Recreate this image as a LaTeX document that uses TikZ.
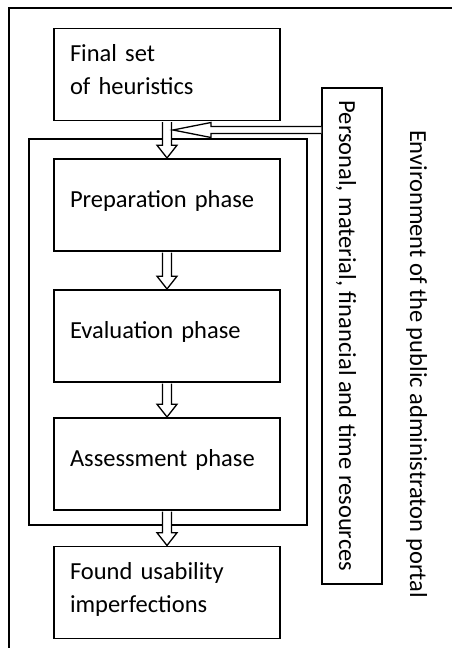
\documentclass[tikz,border=0pt]{standalone}
\usepackage{fontspec}
\setmainfont{Carlito}
\usetikzlibrary{calc}
\tikzset{
  lbl/.style={font=\fontsize{24.5}{33.5}\selectfont},
  box/.style={lbl, draw, line width=1.5pt, minimum width=226pt, minimum height=92pt,
    text width=194pt, align=left, inner sep=0pt, text height=18pt},
  oneline/.style={text depth=14pt},
  twoline/.style={text depth=45pt},
  frameline/.style={draw, line width=1.5pt},
  blk/.style={draw, fill=white, line width=1.3pt, line join=miter},
}
\newcommand\myvarrow[2]{\filldraw[blk] let \p1=(#1.south), \p2=(#2.north) in
  (\x1-4.5pt,\y1-0.8pt) -- (\x1-4.5pt,\y2+13pt) -- (\x1-10pt,\y2+13pt) -- (\x1,\y2+0.3pt)
  -- (\x1+10pt,\y2+13pt) -- (\x1+4.5pt,\y2+13pt) -- (\x1+4.5pt,\y1-0.8pt);}
\begin{document}
\begin{tikzpicture}[x=1pt,y=-1pt]
\useasboundingbox (0,0) rectangle (452,648);
% outer (cropped) frame
\draw[line width=1.5pt] (9,648) -- (9,8) -- (452,8);
% inner frame
\node[frameline, minimum width=278pt, minimum height=386pt, inner sep=0pt] (phases) at (168,332) {};
% boxes
\node[box, twoline] (fin) at (167,74.5) {Final set\\of heuristics};
\node[box, oneline] (prep) at (167,205) {Preparation phase};
\node[box, oneline] (eval) at (167,336) {Evaluation phase};
\node[box, oneline] (assess) at (167,464) {Assessment phase};
\node[box, twoline] (found) at (167,592.5) {Found usability\\imperfections};
% environment / resources
\node[lbl, draw, line width=1.5pt, rotate=-90, minimum width=496pt, minimum height=60pt,
  inner sep=0pt, text height=32pt, text depth=6pt] (env) at (352,336)
  {Personal, material, financial and time resources};
\node[lbl, rotate=-90, inner sep=0pt, text height=18pt, text depth=6pt] (envtext) at (416,364)
  {Environment of the public administraton portal};
% arrows
\myvarrow{fin}{prep}
\myvarrow{prep}{eval}
\myvarrow{eval}{assess}
\myvarrow{assess}{found}
\coordinate (tip) at (173,130);
\coordinate (envin) at (env.south |- tip);
\filldraw[blk] let \p1=(envin), \p2=(tip) in
  (\x1,\y1+3.5pt) -- (\x2+38pt,\y1+3.5pt) -- (\x2+38pt,\y1+7.5pt) -- (\x2,\y2)
  -- (\x2+38pt,\y1-7.5pt) -- (\x2+38pt,\y1-3.5pt) -- (\x1,\y1-3.5pt);
\end{tikzpicture}
\end{document}
